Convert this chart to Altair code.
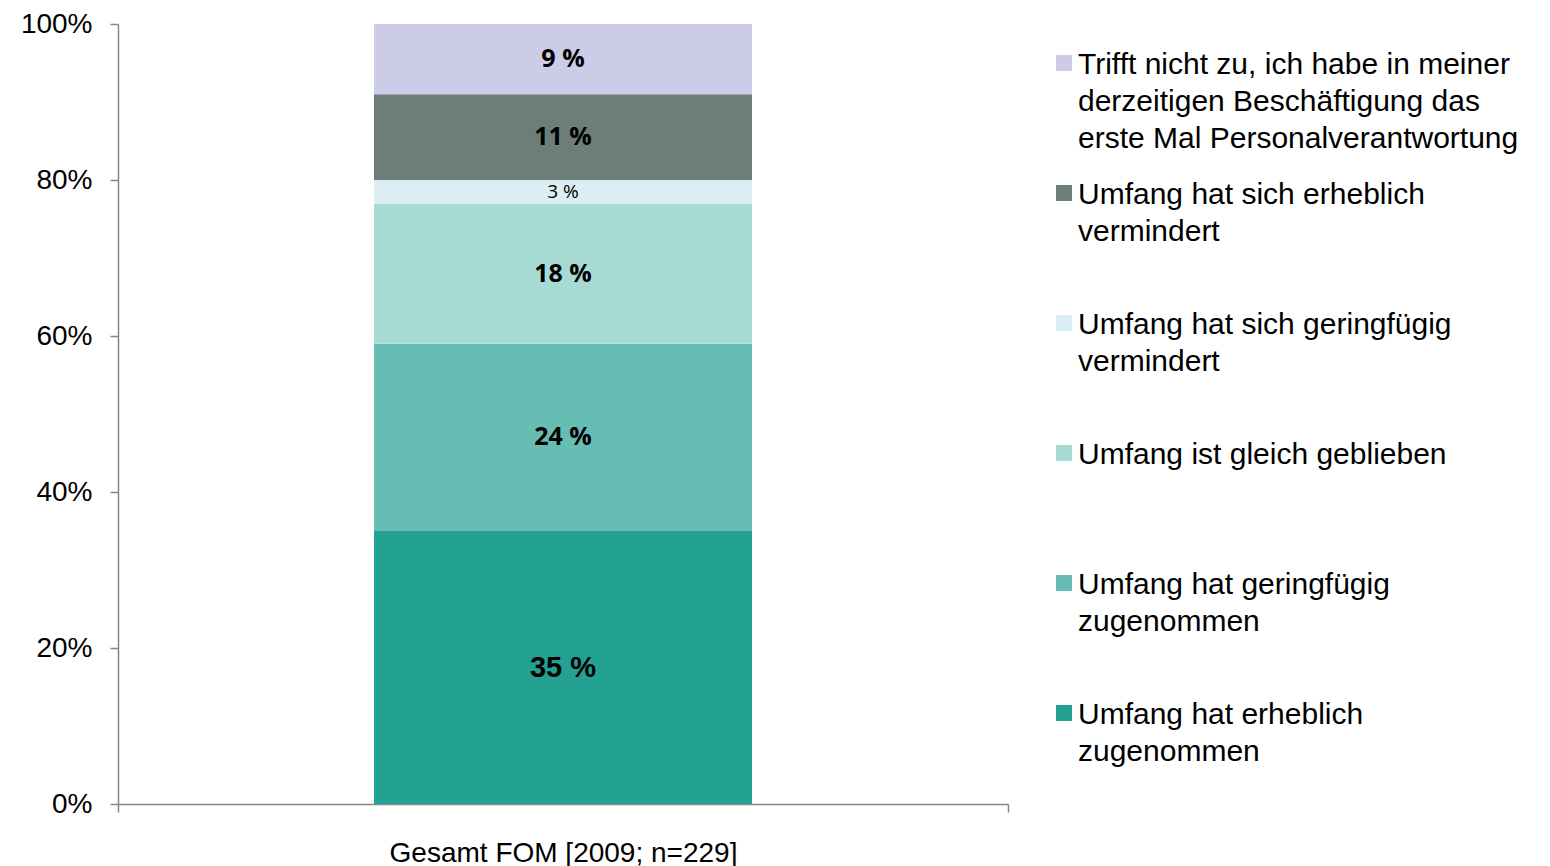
import altair as alt
import pandas as pd

# Data (bottom to top of stack)
categories = [
    "Umfang hat erheblich\nzugenommen",
    "Umfang hat geringfügig\nzugenommen",
    "Umfang ist gleich geblieben",
    "Umfang hat sich geringfügig\nvermindert",
    "Umfang hat sich erheblich\nvermindert",
    "Trifft nicht zu, ich habe in meiner\nderzeitigen Beschäftigung das\nerste Mal Personalverantwortung",
]
values = [35, 24, 18, 3, 11, 9]
colors = ["#23A193", "#66BDB3", "#A8DAD4", "#DBEEF3", "#6B7F78", "#CCCCE8"]
group = "Gesamt FOM [2009; n=229]"
y_ticks = [0, 20, 40, 60, 80, 100]

df = pd.DataFrame({
    "group": [group] * len(values),
    "cat": categories,
    "value": values,
    "order": list(range(len(values))),
    "label": [f"{v} %" for v in values],
})

legend_order = list(reversed(categories))
color_scale = alt.Scale(domain=categories, range=colors)

base = alt.Chart(df).transform_stack(
    stack="value", groupby=["group"], as_=["y0", "y1"],
    sort=[alt.SortField("order", order="ascending")]
).transform_calculate(mid="(datum.y0 + datum.y1) / 2")

x_enc = alt.X("group:N", title=None,
              scale=alt.Scale(paddingInner=0, paddingOuter=0),
              axis=alt.Axis(labelAngle=0, tickBand="extent", labelFont="Liberation Sans",
                            labelFontSize=28, labelColor="#000000", labelPadding=27,
                            labelLimit=0,
                            domainColor="#868686", tickColor="#868686", tickSize=8,
                            domainWidth=1.5, tickWidth=1.5))

bars = base.mark_bar(size=378).encode(
    x=x_enc,
    y=alt.Y("y0:Q", title=None,
            scale=alt.Scale(domain=[0, 100], nice=False),
            axis=alt.Axis(values=y_ticks, labelExpr="datum.value + '%'",
                          labelFont="Liberation Sans", labelFontSize=28,
                          labelColor="#000000", labelPadding=18, grid=False,
                          domainColor="#868686", tickColor="#868686", tickSize=8,
                          domainWidth=1.5, tickWidth=1.5)),
    y2="y1:Q",
    color=alt.Color("cat:N", scale=color_scale, legend=None),
    order=alt.Order("order:Q"),
)

big = base.transform_filter("datum.value == 35").mark_text(
    font="Liberation Sans", fontWeight="bold", fontSize=29, color="#000000"
).encode(x=alt.X("group:N"), y=alt.Y("mid:Q"), text="label:N")

mid_lbl = base.transform_filter("datum.value != 35 && datum.value != 3").mark_text(
    font="Open Sans", fontWeight="bold", fontSize=25, color="#000000"
).encode(x=alt.X("group:N"), y=alt.Y("mid:Q"), text="label:N")

small = base.transform_filter("datum.value == 3").mark_text(
    font="Open Sans", fontSize=19, color="#000000"
).encode(x=alt.X("group:N"), y=alt.Y("mid:Q"), text="label:N")

main = alt.layer(bars, big, mid_lbl, small).properties(width=890, height=780)

# Legend panel (built from the same categories/colours)
leg_y = alt.Y("cat:N", sort=legend_order, title=None, axis=None,
              scale=alt.Scale(type="point", domain=legend_order, range=[50, 700],
                              padding=0))
leg_base = alt.Chart(df)
leg_sym = leg_base.mark_square(size=256, yOffset=-11, opacity=1).encode(
    x=alt.value(55), y=leg_y,
    color=alt.Color("cat:N", scale=color_scale, legend=None),
)
leg_txt = leg_base.mark_text(
    align="left", baseline="alphabetic", font="Liberation Sans", fontSize=30,
    lineBreak="\n", lineHeight=37, color="#000000",
).encode(x=alt.value(69), y=leg_y, text="cat:N")
legend = alt.layer(leg_sym, leg_txt).properties(width=530, height=780)

chart = alt.hconcat(main, legend, spacing=0).properties(
    padding={"left": 12, "top": 2, "right": 0, "bottom": 0},
).configure(background="#ffffff").configure_view(strokeWidth=0)

chart.save("out.html", embed_options={"renderer": "svg", "actions": False})
